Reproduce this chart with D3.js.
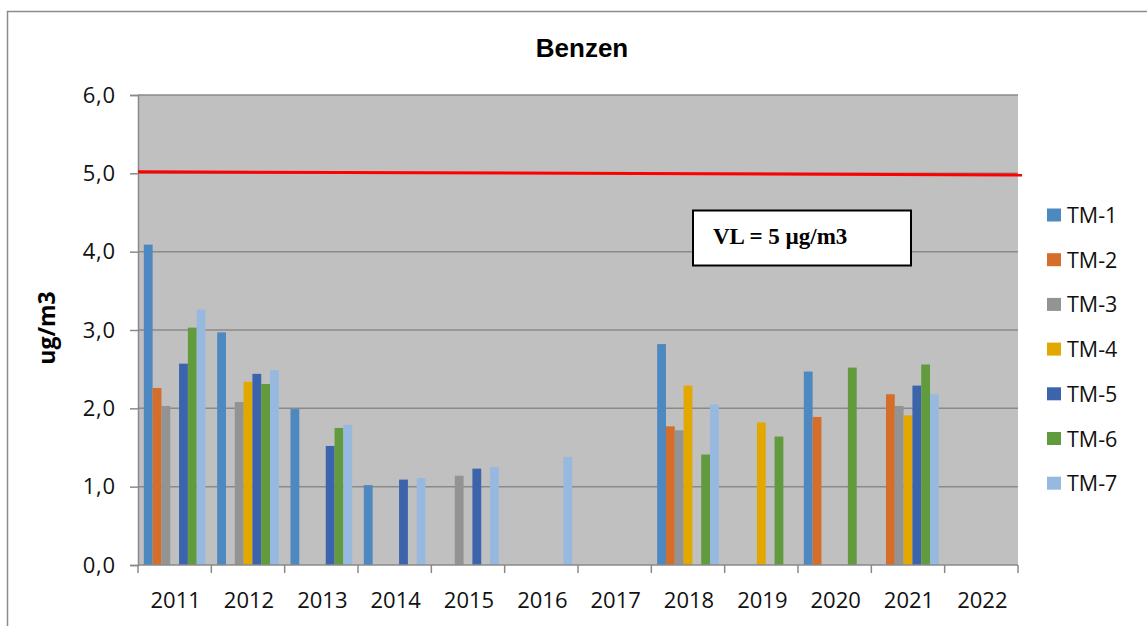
<!DOCTYPE html>
<html>
<head>
<meta charset="utf-8">
<script src="https://cdn.jsdelivr.net/npm/d3@7"></script>
<style>
    body { margin: 0; background: #fff; }
    svg { display: block; }
</style>
</head>
<body>
<div id="chart"></div>
<script>
// Benzen yearly means per station
const years = ['2011', '2012', '2013', '2014', '2015', '2016', '2017', '2018', '2019', '2020', '2021', '2022'];
const stations = ['TM-1', 'TM-2', 'TM-3', 'TM-4', 'TM-5', 'TM-6', 'TM-7'];
const tm1 = [4.09, 2.97, 1.99, 1.02, null, null, null, 2.82, null, 2.47, null, null];
const tm2 = [2.26, null, null, null, null, null, null, 1.77, null, 1.89, 2.18, null];
const tm3 = [2.03, 2.08, null, null, 1.14, null, null, 1.72, null, null, 2.03, null];
const tm4 = [null, 2.34, null, null, null, null, null, 2.29, 1.82, null, 1.91, null];
const tm5 = [2.57, 2.44, 1.52, 1.09, 1.23, null, null, null, null, null, 2.29, null];
const tm6 = [3.03, 2.31, 1.75, null, null, null, null, 1.41, 1.64, 2.52, 2.56, null];
const tm7 = [3.26, 2.49, 1.79, 1.11, 1.25, 1.38, null, 2.05, null, null, 2.18, null];
const seriesValues = [tm1, tm2, tm3, tm4, tm5, tm6, tm7];
const yTicks = [0, 1, 2, 3, 4, 5, 6];
const limitValue = [5.02, 4.98]; // red limit line, slightly tilted in the original
const limitLabel = 'VL = 5 \u00b5g/m3';

const colors = ['#4e88c0', '#d46e2a', '#939393', '#e2a800', '#3b64ad', '#629a3e', '#97b9e0'];

const width = 1147, height = 626;
const margin = { left: 138, top: 95, right: 1018, bottom: 565 };

const svg = d3.select('#chart').append('svg')
    .attr('width', width)
    .attr('height', height);

// chart frame
svg.append('rect')
    .attr('x', 7.5).attr('y', 11.5)
    .attr('width', 1150).attr('height', 700)
    .attr('fill', '#fff')
    .attr('stroke', '#8c8c8c')
    .attr('stroke-width', 1.5);

const x0 = d3.scaleBand().domain(years).range([margin.left, margin.right]).padding(0);
const x1 = d3.scaleBand().domain(stations).range([0, x0.bandwidth()]).paddingInner(0).paddingOuter(0.66);
const y = d3.scaleLinear().domain([0, 6]).range([margin.bottom, margin.top]);

// plot area
svg.append('rect')
    .attr('x', margin.left).attr('y', margin.top)
    .attr('width', margin.right - margin.left)
    .attr('height', margin.bottom - margin.top)
    .attr('fill', '#c0c0c0');

// gridlines
svg.append('g').selectAll('line')
    .data(yTicks.filter(d => d > 0))
    .join('line')
    .attr('x1', margin.left).attr('x2', margin.right)
    .attr('y1', d => y(d)).attr('y2', d => y(d))
    .attr('stroke', '#8a8a8a')
    .attr('stroke-width', 1.5);

// bars
stations.forEach((s, i) => {
    svg.append('g').selectAll('rect')
        .data(years.map((yr, j) => ({ yr, v: seriesValues[i][j] })).filter(d => d.v != null))
        .join('rect')
        .attr('x', d => x0(d.yr) + x1(s))
        .attr('y', d => y(d.v))
        .attr('width', x1.bandwidth())
        .attr('height', d => y(0) - y(d.v))
        .attr('fill', colors[i]);
});

// y axis
const yAxis = svg.append('g')
    .attr('transform', `translate(${margin.left},0)`)
    .call(d3.axisLeft(y).tickValues(yTicks).tickSize(8).tickPadding(14)
        .tickFormat(d => d3.format('.1f')(d).replace('.', ',')));
yAxis.select('.domain').attr('stroke', '#8a8a8a').attr('stroke-width', 1.5);
yAxis.selectAll('.tick line').attr('stroke', '#8a8a8a').attr('stroke-width', 1.5);
yAxis.selectAll('.tick text')
    .attr('font-family', 'Open Sans, sans-serif')
    .attr('font-size', 22)
    .attr('letter-spacing', 0.8)
    .attr('fill', '#111');

// x axis with ticks on category boundaries
const xAxisG = svg.append('g').attr('transform', `translate(0,${margin.bottom})`);
xAxisG.append('line')
    .attr('x1', margin.left).attr('x2', margin.right)
    .attr('stroke', '#8a8a8a').attr('stroke-width', 1.5);
const bounds = years.map(d => x0(d)).concat([margin.right]);
xAxisG.selectAll('line.tk')
    .data(bounds)
    .join('line')
    .attr('class', 'tk')
    .attr('x1', d => d).attr('x2', d => d)
    .attr('y1', 0).attr('y2', 8)
    .attr('stroke', '#8a8a8a').attr('stroke-width', 1.5);
xAxisG.selectAll('text')
    .data(years)
    .join('text')
    .attr('x', d => x0(d) + x0.bandwidth() / 2 + 1)
    .attr('y', 43)
    .attr('text-anchor', 'middle')
    .attr('font-family', 'Open Sans, sans-serif')
    .attr('font-size', 22)
    .attr('fill', '#111')
    .text(d => d);

// limit line
svg.append('line')
    .attr('x1', margin.left).attr('x2', margin.right + 4)
    .attr('y1', y(limitValue[0])).attr('y2', y(limitValue[1]))
    .attr('stroke', '#ff0000')
    .attr('stroke-width', 3);

// limit label box
svg.append('rect')
    .attr('x', 693).attr('y', 210.5)
    .attr('width', 218).attr('height', 55)
    .attr('fill', '#fff')
    .attr('stroke', '#000')
    .attr('stroke-width', 2);
svg.append('text')
    .attr('x', 713).attr('y', 244)
    .attr('font-family', 'Liberation Serif, Times New Roman, serif')
    .attr('font-weight', 'bold')
    .attr('font-size', 23)
    .attr('fill', '#000')
    .text(limitLabel);

// title
svg.append('text')
    .attr('x', 582).attr('y', 57)
    .attr('text-anchor', 'middle')
    .attr('font-family', 'Liberation Sans, Arial, sans-serif')
    .attr('font-weight', 'bold')
    .attr('font-size', 26)
    .attr('fill', '#000')
    .text('Benzen');

// y axis title
svg.append('text')
    .attr('transform', 'translate(55,328) rotate(-90)')
    .attr('text-anchor', 'middle')
    .attr('font-family', 'Open Sans, sans-serif')
    .attr('font-weight', 'bold')
    .attr('font-size', 23)
    .attr('fill', '#000')
    .text('ug/m3');

// legend
const legend = svg.append('g').selectAll('g')
    .data(stations)
    .join('g')
    .attr('transform', (d, i) => `translate(1047,${215 + i * 44.7})`);
legend.append('rect')
    .attr('x', 0).attr('y', -6.5)
    .attr('width', 14).attr('height', 13)
    .attr('fill', (d, i) => colors[i]);
legend.append('text')
    .attr('x', 20).attr('y', 8)
    .attr('font-family', 'Open Sans, sans-serif')
    .attr('font-size', 21.5)
    .attr('fill', '#111')
    .text(d => d);
</script>
</body>
</html>
